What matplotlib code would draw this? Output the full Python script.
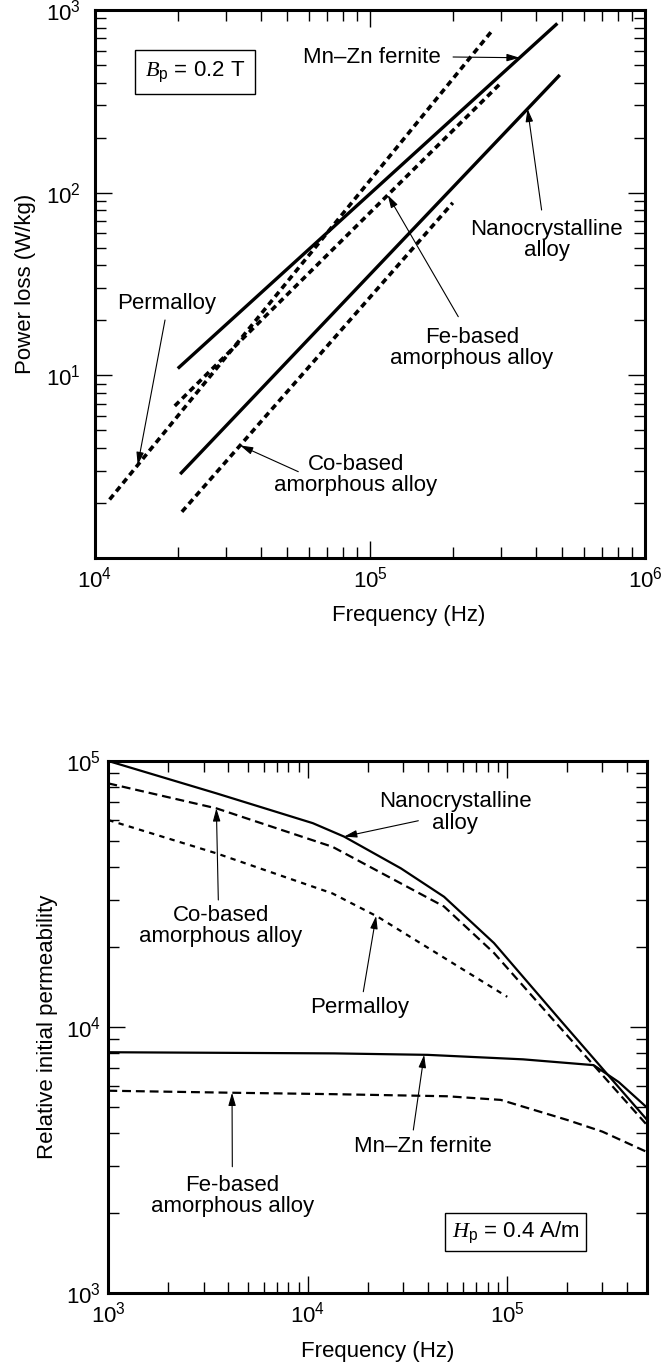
import numpy as np
import matplotlib
matplotlib.use('Agg')
import matplotlib.pyplot as plt
from matplotlib.ticker import LogLocator, NullFormatter, LogFormatterMathtext

plt.rcParams['font.family'] = ['Liberation Sans', 'DejaVu Sans']
plt.rcParams['mathtext.fontset'] = 'custom'
plt.rcParams['mathtext.rm'] = 'Liberation Sans'
plt.rcParams['mathtext.it'] = 'Liberation Serif:italic'
plt.rcParams['mathtext.bf'] = 'Liberation Sans:bold'

# ---- power loss vs frequency (Bp = 0.2 T) ----
freq_mnzn = [2.0e4, 4.8e5]
loss_mnzn = [10.9, 844]
freq_nano = [2.04e4, 4.9e5]
loss_nano = [2.88, 441]
freq_perm = [1.13e4, 2.8e5]
loss_perm = [2.09, 781]
freq_fe = [1.95e4, 3.0e5]
loss_fe = [6.8, 400]
freq_co = [2.07e4, 2.0e5]
loss_co = [1.79, 88]

# ---- relative initial permeability vs frequency (Hp = 0.4 A/m) ----
f_nano = [1e3, 3.48e3, 1.06e4, 1.52e4, 2.93e4, 4.82e4, 8.58e4, 1.85e5, 5e5]
mu_nano = [1.0e5, 7.56e4, 5.84e4, 5.2e4, 3.95e4, 3.09e4, 2.07e4, 1.06e4, 4.5e3]
f_co = [1e3, 3.48e3, 1.33e4, 4.82e4, 8.58e4, 1.71e5, 5e5]
mu_co = [8.24e4, 6.64e4, 4.76e4, 2.84e4, 1.9e4, 1.06e4, 4.3e3]
f_perm = [1e3, 3.48e3, 1.33e4, 2.24e4, 1e5]
mu_perm = [6.0e4, 4.5e4, 3.18e4, 2.6e4, 1.3e4]
f_mnzn = [1e3, 1.36e4, 3.98e4, 1.2e5, 2.71e5, 3.62e5, 5e5]
mu_mnzn = [8.05e3, 7.97e3, 7.87e3, 7.57e3, 7.2e3, 6.22e3, 5.0e3]
f_fe = [1e3, 4.2e3, 1.36e4, 5e4, 9.27e4, 2e5, 3e5, 5e5]
mu_fe = [5.77e3, 5.67e3, 5.6e3, 5.5e3, 5.33e3, 4.48e3, 4.05e3, 3.4e3]

FS = 16


def on_curve(xs, ys, x):
    # point on a log-log curve at frequency x
    return (x, 10 ** np.interp(np.log10(x), np.log10(xs), np.log10(ys)))


def style_axes(ax, ypad):
    for s in ax.spines.values():
        s.set_linewidth(2.2)
    ax.tick_params(which='both', direction='in', top=True, right=True,
                   labelsize=FS, width=1.0)
    ax.tick_params(which='major', length=12)
    ax.tick_params(which='minor', length=8)
    ax.tick_params(axis='x', which='major', pad=6)
    ax.tick_params(axis='y', which='major', pad=ypad)
    ax.xaxis.set_minor_locator(LogLocator(base=10, subs=np.arange(2, 10), numticks=20))
    ax.yaxis.set_minor_locator(LogLocator(base=10, subs=np.arange(2, 10), numticks=20))
    ax.xaxis.set_minor_formatter(NullFormatter())
    ax.yaxis.set_minor_formatter(NullFormatter())


def label(ax, text, txy, start, tip):
    ax.text(txy[0], txy[1], text, transform=ax.transAxes, ha='center',
            va='center', fontsize=FS, linespacing=1.05)
    ax.annotate('', xy=tip, xycoords='data', xytext=start,
                textcoords='axes fraction',
                arrowprops=dict(arrowstyle='-|>,head_length=0.55,head_width=0.16',
                                mutation_scale=14, lw=0.8, color='k',
                                shrinkA=0, shrinkB=0))


fig = plt.figure(figsize=(6.7, 13.67), dpi=100)
ax1 = fig.add_axes([0.1418, 0.5918, 0.8209, 0.4009])
ax2 = fig.add_axes([0.1617, 0.0539, 0.8035, 0.3894])

# upper chart
dash_top = (1.7, 1.2)
ax1.plot(freq_mnzn, loss_mnzn, color='k', lw=2.4, solid_capstyle='butt')
ax1.plot(freq_nano, loss_nano, color='k', lw=2.4, solid_capstyle='butt')
ax1.plot(freq_perm, loss_perm, color='k', lw=2.6, dashes=dash_top)
ax1.plot(freq_fe, loss_fe, color='k', lw=2.6, dashes=dash_top)
ax1.plot(freq_co, loss_co, color='k', lw=2.6, dashes=dash_top)
ax1.set_xscale('log')
ax1.set_yscale('log')
ax1.set_xlim(1e4, 1e6)
ax1.set_ylim(1, 1e3)
style_axes(ax1, 10)
ax1.set_yticks([10, 100, 1000])
ax1.yaxis.set_major_formatter(LogFormatterMathtext())
ax1.set_xlabel('Frequency (Hz)', fontsize=FS)
ax1.xaxis.set_label_coords(0.571, -0.085)
ax1.set_ylabel('Power loss (W/kg)', fontsize=FS, labelpad=7)

ax1.text(0.182, 0.887, r'$B_\mathrm{p}$ = 0.2 T', transform=ax1.transAxes,
         ha='center', va='center', fontsize=FS,
         bbox=dict(boxstyle='square,pad=0.45', fc='w', ec='k', lw=1.0))
label(ax1, 'Mn\u2013Zn fernite', (0.5036, 0.9142), (0.651, 0.9142),
      on_curve(freq_mnzn, loss_mnzn, 3.5e5))
label(ax1, 'Nanocrystalline\nalloy', (0.8213, 0.5803), (0.812, 0.635),
      on_curve(freq_nano, loss_nano, 3.74e5))
label(ax1, 'Fe-based\namorphous alloy', (0.6855, 0.3832), (0.6605, 0.4403),
      on_curve(freq_fe, loss_fe, 1.16e5))
label(ax1, 'Permalloy', (0.1304, 0.4648), (0.1273, 0.4343),
      on_curve(freq_perm, loss_perm, 1.43e4))
label(ax1, 'Co-based\namorphous alloy', (0.4745, 0.1515), (0.3696, 0.1575),
      on_curve(freq_co, loss_co, 3.37e4))

# lower chart
ax2.plot(f_nano, mu_nano, color='k', lw=1.6)
ax2.plot(f_co, mu_co, color='k', lw=1.6, dashes=(4, 2.2))
ax2.plot(f_perm, mu_perm, color='k', lw=1.6, dashes=(2.4, 2.4))
ax2.plot(f_mnzn, mu_mnzn, color='k', lw=1.6)
ax2.plot(f_fe, mu_fe, color='k', lw=1.6, dashes=(4, 2.2))
ax2.set_xscale('log')
ax2.set_yscale('log')
ax2.set_xlim(1e3, 5e5)
ax2.set_ylim(1e3, 1e5)
style_axes(ax2, 5)
ax2.set_xlabel('Frequency (Hz)', fontsize=FS, labelpad=10)
ax2.set_ylabel('Relative initial permeability', fontsize=FS, labelpad=6)

ax2.text(0.7569, 0.1152, r'$H_\mathrm{p}$ = 0.4 A/m', transform=ax2.transAxes,
         ha='center', va='center', fontsize=FS,
         bbox=dict(boxstyle='square,pad=0.3', fc='w', ec='k', lw=1.0))
label(ax2, 'Nanocrystalline\nalloy', (0.6440, 0.9032), (0.5758, 0.8878),
      on_curve(f_nano, mu_nano, 1.52e4))
label(ax2, 'Co-based\namorphous alloy', (0.2088, 0.6900), (0.2043, 0.7389),
      on_curve(f_co, mu_co, 3.48e3))
label(ax2, 'Permalloy', (0.4675, 0.5361), (0.4736, 0.5666),
      on_curve(f_perm, mu_perm, 2.2e4))
label(ax2, 'Mn\u2013Zn fernite', (0.5845, 0.2754), (0.5665, 0.3068),
      on_curve(f_mnzn, mu_mnzn, 3.83e4))
label(ax2, 'Fe-based\namorphous alloy', (0.2303, 0.1829), (0.2303, 0.2378),
      on_curve(f_fe, mu_fe, 4.17e3))

fig.savefig('out.png', dpi=100)
